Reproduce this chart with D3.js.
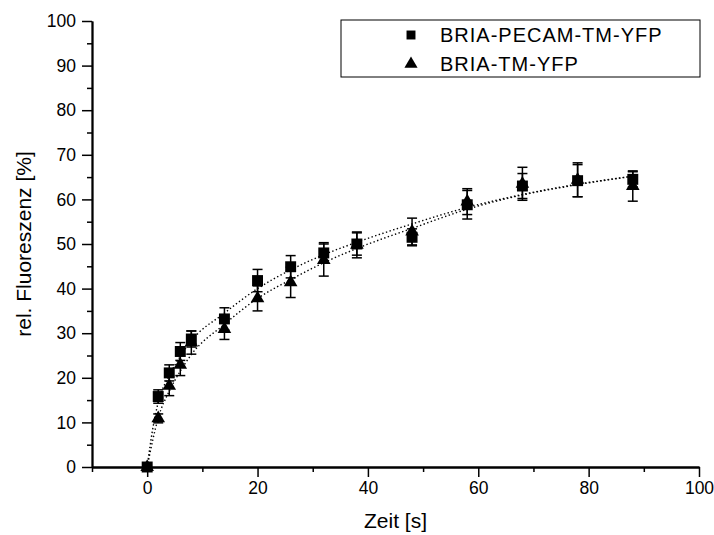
<!DOCTYPE html>
<html>
<head>
<meta charset="utf-8">
<script src="https://cdn.jsdelivr.net/npm/d3@7"></script>
<style>
  body { margin: 0; background: #fff; }
  svg { font-family: Arial, "Liberation Sans", sans-serif; }
</style>
</head>
<body>
<div class="box"></div>
<script>
// DATA
const zeit = [0, 2, 4, 6, 8, 14, 20, 26, 32, 38, 48, 58, 68, 78, 88];

const pecamMean = [0, 15.8, 21.1, 25.9, 28.7, 33.2, 41.8, 44.9, 48.0, 50.0, 51.5, 58.8, 63.0, 64.2, 64.5];
const pecamErr  = [0, 1.5, 1.8, 2.0, 1.8, 2.5, 2.5, 2.5, 2.3, 2.5, 1.9, 3.2, 2.8, 3.6, 1.7];

const tmMean = [0, 10.9, 18.2, 22.9, 27.9, 30.9, 37.8, 41.4, 46.4, 49.8, 52.8, 59.5, 63.5, 64.4, 63.0];
const tmErr  = [0, 1.0, 2.2, 2.4, 2.6, 2.3, 2.8, 3.4, 3.6, 2.9, 3.0, 2.9, 3.7, 3.8, 3.4];

// fit curves, read at a few x positions
const fitX     = [0, 1, 2, 4, 6, 8, 14, 20, 26, 32, 38, 48, 58, 68, 78, 88];
const fitPecam = [0, 8.5, 14.5, 20.5, 24.8, 28.3, 34.5, 40.0, 44.2, 47.6, 50.4, 54.5, 58.2, 61.1, 63.4, 65.2];
const fitTm    = [0, 6.0, 11.0, 17.0, 21.5, 25.2, 32.0, 37.8, 42.0, 45.8, 49.0, 53.5, 57.8, 61.0, 63.3, 65.2];

const xMajor = [0, 20, 40, 60, 80, 100];
const xMinor = [-10, 10, 30, 50, 70, 90];
const yMajor = [0, 10, 20, 30, 40, 50, 60, 70, 80, 90, 100];
const yMinor = [5, 15, 25, 35, 45, 55, 65, 75, 85, 95];

const seriesNames = ['BRIA-PECAM-TM-YFP', 'BRIA-TM-YFP'];

// SETUP
const W = 714, H = 535;
const margin = {top: 21, right: 15, bottom: 68, left: 92};
const gw = W - margin.left - margin.right;
const gh = H - margin.top - margin.bottom;

const svg = d3.select('.box')
              .append('svg')
              .attr('width', W)
              .attr('height', H)
              .style('background', '#fff');

const graph = svg.append('g')
                 .attr('transform', `translate(${margin.left}, ${margin.top})`);

const x = d3.scaleLinear().domain([-10, 100]).range([0, gw]);
const y = d3.scaleLinear().domain([0, 100]).range([gh, 0]);

// axes: major ticks with labels, minor ticks without
const axisStyle = (g) => {
  g.selectAll('.domain').attr('stroke', '#000').attr('stroke-width', 1.8);
  g.selectAll('.tick line').attr('stroke', '#000').attr('stroke-width', 1.5);
  g.selectAll('.tick text').attr('fill', '#000')
   .style('font-size', '17.5px')
   .style('font-family', 'Arial, "Liberation Sans", sans-serif');
};

graph.append('g')
     .attr('transform', `translate(0, ${gh})`)
     .call(d3.axisBottom(x).tickValues(xMinor).tickSize(5).tickSizeOuter(0).tickFormat(''))
     .call(axisStyle);
graph.append('g')
     .attr('transform', `translate(0, ${gh})`)
     .call(d3.axisBottom(x).tickValues(xMajor).tickSize(10).tickSizeOuter(0).tickPadding(5))
     .call(axisStyle);

graph.append('g')
     .call(d3.axisLeft(y).tickValues(yMinor).tickSize(5).tickSizeOuter(0).tickFormat(''))
     .call(axisStyle);
graph.append('g')
     .call(d3.axisLeft(y).tickValues(yMajor).tickSize(10).tickSizeOuter(0).tickPadding(6))
     .call(axisStyle);

// axis titles
graph.append('text')
     .text('Zeit [s]')
     .attr('x', gw / 2)
     .attr('y', gh + 61)
     .attr('text-anchor', 'middle')
     .style('font-size', '21px');

graph.append('text')
     .text('rel. Fluoreszenz [%]')
     .attr('transform', `translate(${-61}, ${gh / 2}) rotate(-90)`)
     .attr('text-anchor', 'middle')
     .style('font-size', '21px');

// fit curves (dotted)
const fitLine = (vals) => d3.line()
  .x((d, i) => x(fitX[i]))
  .y((d, i) => y(vals[i]))
  .curve(d3.curveMonotoneX)(vals);

[fitPecam, fitTm].forEach(vals => {
  graph.append('path')
       .attr('d', fitLine(vals))
       .attr('fill', 'none')
       .attr('stroke', '#000')
       .attr('stroke-width', 1.4)
       .attr('stroke-dasharray', '1.4,2.4');
});

// error bars + markers
const drawSeries = (means, errs, sym, size) => {
  const pts = zeit.map((t, i) => ({t, m: means[i], e: errs[i]}));
  const eb = graph.append('g').attr('stroke', '#000').attr('stroke-width', 1.5);
  pts.filter(d => d.e > 0).forEach(d => {
    eb.append('line').attr('x1', x(d.t)).attr('x2', x(d.t))
      .attr('y1', y(d.m - d.e)).attr('y2', y(d.m + d.e));
    [d.m - d.e, d.m + d.e].forEach(v => {
      eb.append('line').attr('x1', x(d.t) - 5).attr('x2', x(d.t) + 5)
        .attr('y1', y(v)).attr('y2', y(v));
    });
  });
  graph.append('g').selectAll('path')
       .data(pts)
       .enter()
       .append('path')
       .attr('d', d3.symbol().type(sym).size(size))
       .attr('transform', d => `translate(${x(d.t)}, ${y(d.m)})`)
       .attr('fill', '#000');
};

drawSeries(pecamMean, pecamErr, d3.symbolSquare, 120);
drawSeries(tmMean, tmErr, d3.symbolTriangle, 80);

// LEGEND
const legend = svg.append('g');
legend.append('rect')
      .attr('x', 341).attr('y', 20)
      .attr('width', 359).attr('height', 57)
      .attr('fill', '#fff')
      .attr('stroke', '#000')
      .attr('stroke-width', 1);

const legSyms = [d3.symbolSquare, d3.symbolTriangle];
const legSizes = [80, 75];
seriesNames.forEach((name, i) => {
  const ly = 35 + i * 29;
  legend.append('path')
        .attr('d', d3.symbol().type(legSyms[i]).size(legSizes[i]))
        .attr('transform', `translate(411, ${ly})`)
        .attr('fill', '#000');
  legend.append('text')
        .text(name)
        .attr('x', 440)
        .attr('y', ly + 7)
        .style('font-size', '20px')
        .style('letter-spacing', '1px');
});
</script>
</body>
</html>
